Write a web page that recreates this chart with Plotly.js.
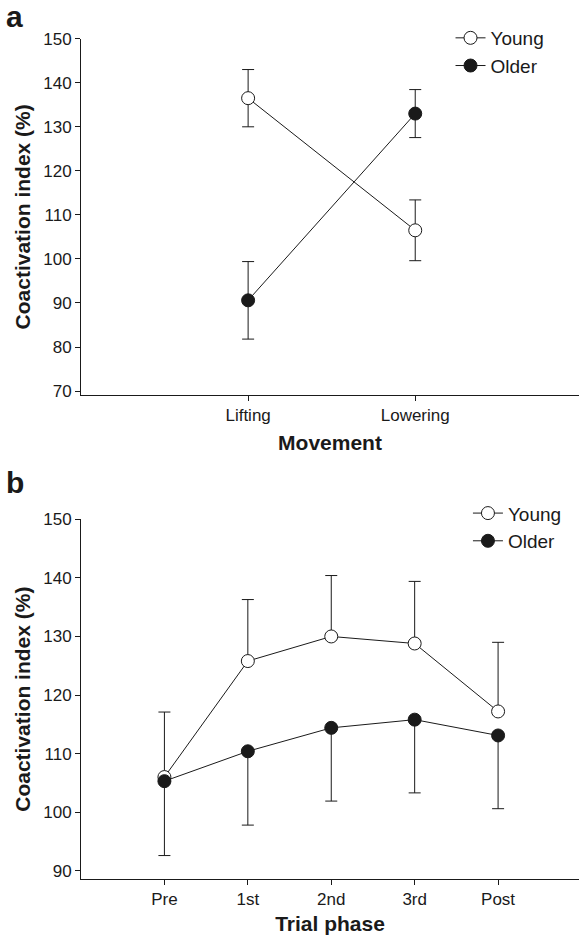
<!DOCTYPE html>
<html>
<head>
<meta charset="utf-8">
<script src="https://cdn.plot.ly/plotly-3.0.1.min.js"></script>
<style>html,body{margin:0;padding:0;background:#fff;}#chart{width:579px;height:935px;}</style>
</head>
<body>
<div id="chart"></div>
<script>
// Panel a data
const movementCats = ["Lifting", "Lowering"];
const youngA = [136.5, 106.5];
const youngAErr = [6.5, 6.9];
const olderA = [90.6, 133.0];
const olderAErr = [8.8, 5.45];

// Panel b data
const phaseCats = ["Pre", "1st", "2nd", "3rd", "Post"];
const youngB = [106.0, 125.8, 130.0, 128.8, 117.2];
const youngBErrPlus = [11.1, 10.5, 10.4, 10.6, 11.8];
const olderB = [105.3, 110.4, 114.4, 115.8, 113.1];
const olderBErrMinus = [12.7, 12.6, 12.5, 12.5, 12.5];

const yTicksA = [70, 80, 90, 100, 110, 120, 130, 140, 150];
const yTicksB = [90, 100, 110, 120, 130, 140, 150];

const FONT = "Liberation Sans, Arial, Helvetica, sans-serif";
const INK = "#1a1a1a";
const zeros = n => new Array(n).fill(0);

const lineStyle = {color: INK, width: 1};
const youngMarker = {symbol: "circle", size: 13, color: "#ffffff", line: {color: INK, width: 1}};
const olderMarker = {symbol: "circle", size: 13, color: INK, line: {color: INK, width: 1}};
const errStyle = {color: INK, thickness: 1, width: 6};

const traces = [
  {x: movementCats, y: youngA, name: "Young", type: "scatter", mode: "lines+markers",
   xaxis: "x", yaxis: "y", legend: "legend", line: lineStyle, marker: youngMarker,
   error_y: Object.assign({type: "data", array: youngAErr, visible: true}, errStyle)},
  {x: movementCats, y: olderA, name: "Older", type: "scatter", mode: "lines+markers",
   xaxis: "x", yaxis: "y", legend: "legend", line: lineStyle, marker: olderMarker,
   error_y: Object.assign({type: "data", array: olderAErr, visible: true}, errStyle)},
  {x: phaseCats, y: youngB, name: "Young", type: "scatter", mode: "lines+markers",
   xaxis: "x2", yaxis: "y2", legend: "legend2", line: lineStyle, marker: youngMarker,
   error_y: Object.assign({type: "data", symmetric: false, array: youngBErrPlus,
     arrayminus: zeros(youngBErrPlus.length), visible: true}, errStyle)},
  {x: phaseCats, y: olderB, name: "Older", type: "scatter", mode: "lines+markers",
   xaxis: "x2", yaxis: "y2", legend: "legend2", line: lineStyle, marker: olderMarker,
   error_y: Object.assign({type: "data", symmetric: false, array: zeros(olderBErrMinus.length),
     arrayminus: olderBErrMinus, visible: true}, errStyle)}
];

const axisCommon = {
  showline: true, linecolor: INK, linewidth: 1, showgrid: false, zeroline: false,
  ticks: "outside", ticklen: 5, tickwidth: 1, tickcolor: INK,
  tickfont: {family: FONT, size: 17, color: INK}
};
const titleFont = {family: FONT, size: 21, color: INK, weight: "bold"};

const legendCommon = {
  font: {family: FONT, size: 19, color: INK}, bgcolor: "rgba(0,0,0,0)", borderwidth: 0,
  xanchor: "left", yanchor: "top", tracegroupgap: 0, itemclick: false
};

const layout = {
  width: 579, height: 935,
  margin: {l: 81, r: 0, t: 0, b: 0},
  paper_bgcolor: "#ffffff", plot_bgcolor: "#ffffff",
  font: {family: FONT, color: INK},
  showlegend: true,
  xaxis: Object.assign({}, axisCommon, {
    anchor: "y", domain: [0, 1], type: "category", categoryarray: movementCats,
    range: [-1, 1.98],
    title: {text: "Movement", font: titleFont, standoff: 10}
  }),
  yaxis: Object.assign({}, axisCommon, {
    anchor: "x", domain: [0.5775, 0.9586], range: [69.1, 150],
    tickvals: yTicksA, ticktext: yTicksA.map(String),
    title: {text: "Coactivation index (%)", font: titleFont, standoff: 6}
  }),
  xaxis2: Object.assign({}, axisCommon, {
    anchor: "y2", domain: [0, 1], type: "category", categoryarray: phaseCats,
    range: [-1, 4.97],
    title: {text: "Trial phase", font: titleFont, standoff: 7}
  }),
  yaxis2: Object.assign({}, axisCommon, {
    anchor: "x2", domain: [0.0599, 0.4446], range: [88.6, 150],
    tickvals: yTicksB, ticktext: yTicksB.map(String),
    title: {text: "Coactivation index (%)", font: titleFont, standoff: 6}
  }),
  legend: Object.assign({}, legendCommon, {x: 0.742, y: 0.9797}),
  legend2: Object.assign({}, legendCommon, {x: 0.777, y: 0.4714}),
  annotations: [
    {text: "a", xref: "paper", yref: "paper", x: -0.154, y: 1.002, xanchor: "left", yanchor: "top",
     showarrow: false, font: {family: FONT, size: 30, color: INK, weight: "bold"}},
    {text: "b", xref: "paper", yref: "paper", x: -0.154, y: 0.5035, xanchor: "left", yanchor: "top",
     showarrow: false, font: {family: FONT, size: 30, color: INK, weight: "bold"}}
  ]
};

Plotly.newPlot("chart", traces, layout, {displayModeBar: false, staticPlot: true});
</script>
</body>
</html>
